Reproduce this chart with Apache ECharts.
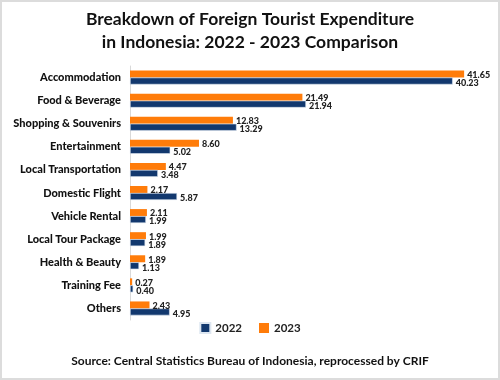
<!DOCTYPE html>
<html>
<head>
<meta charset="utf-8">
<script src="https://cdn.jsdelivr.net/npm/echarts@6/dist/echarts.min.js"></script>
<style>
html,body{margin:0;padding:0;background:#fff;}
#chart{width:500px;height:380px;}
</style>
</head>
<body>
<div id="chart"></div>
<script>
const categories = ["Accommodation","Food & Beverage","Shopping & Souvenirs","Entertainment","Local Transportation","Domestic Flight","Vehicle Rental","Local Tour Package","Health & Beauty","Training Fee","Others"];
const values2022 = [40.23,21.94,13.29,5.02,3.48,5.87,1.99,1.89,1.13,0.40,4.95];
const values2023 = [41.65,21.49,12.83,8.60,4.47,2.17,2.11,1.99,1.89,0.27,2.43];
const seriesNames = ["2022","2023"];
const titleText = "Breakdown of Foreign Tourist Expenditure\nin Indonesia: 2022 - 2023 Comparison";
const sourceText = "Source: Central Statistics Bureau of Indonesia, reprocessed by CRIF";

const FONT = "Lato";
const chart = echarts.init(document.getElementById('chart'), null, {renderer:'canvas'});
const labelCommon = {
  show:true, position:'right', distance:3,
  fontFamily:FONT, fontWeight:900, fontSize:9, color:'#222',
  formatter: p => p.value.toFixed(2)
};
chart.setOption({
  animation:false,
  backgroundColor:'#fff',
  title:{
    text:titleText, left:'center', top:3,
    textStyle:{fontFamily:FONT, fontWeight:'bold', fontSize:17.5, color:'#111', lineHeight:23}
  },
  graphic:[
    {type:'rect', shape:{x:1,y:1,width:498,height:378}, style:{fill:'none', stroke:'#dcdcdc', lineWidth:2}, silent:true},
    {type:'text', left:'center', top:355, style:{text:sourceText, fontFamily:FONT, fontWeight:'bold', fontSize:12, fill:'#111'}}
  ],
  legend:{
    data:seriesNames, bottom:41, left:'center', itemWidth:10, itemHeight:10, itemGap:17,
    icon:'rect',
    textStyle:{fontFamily:FONT, fontSize:11.5, color:'#222', fontWeight:'bold'}
  },
  grid:{left:130, right:9, top:66, height:254, containLabel:false},
  xAxis:{type:'value', min:0, max:45, show:false, splitLine:{show:false}},
  yAxis:{
    type:'category', data:categories, inverse:true,
    axisLine:{show:true, lineStyle:{color:'#d9d9d9', width:1}},
    axisTick:{show:false},
    axisLabel:{fontFamily:FONT, fontWeight:900, fontSize:11, color:'#111', margin:9}
  },
  series:[
    {name:seriesNames[1], type:'bar', data:values2023, barWidth:7, barGap:'0%',
     itemStyle:{color:'#ff7c0a'},
     label:Object.assign({}, labelCommon, {offset:[0,1]})},
    {name:seriesNames[0], type:'bar', data:values2022, barWidth:7, barGap:'0%',
     itemStyle:{color:'#12386e', borderColor:'#dde6f0', borderWidth:0.6},
     label:Object.assign({}, labelCommon, {offset:[0,2]})}
  ]
});
</script>
</body>
</html>
